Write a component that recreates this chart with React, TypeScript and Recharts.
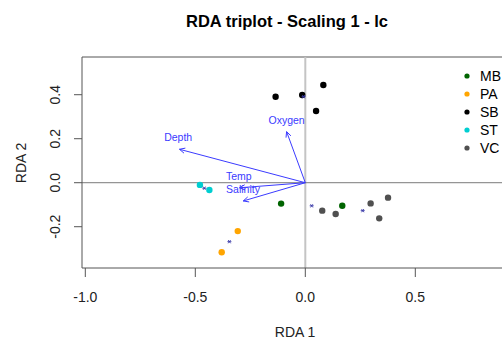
import React from 'react';
import { ScatterChart, Scatter, XAxis, YAxis, ReferenceLine, Legend } from 'recharts';

const xTicks = [-1, -0.5, 0, 0.5];
const yTicks = [-0.2, 0, 0.2, 0.4];
const xDomain = [-1.015, 0.9077];
const yDomain = [-0.3877, 0.5714];

const mbSites = [{ x: -0.110, y: -0.095 }, { x: 0.168, y: -0.105 }];
const paSites = [{ x: -0.307, y: -0.220 }, { x: -0.380, y: -0.316 }];
const sbSites = [{ x: -0.135, y: 0.391 }, { x: -0.014, y: 0.399 }, { x: 0.082, y: 0.444 }, { x: 0.049, y: 0.326 }];
const stSites = [{ x: -0.479, y: -0.010 }, { x: -0.436, y: -0.033 }];
const vcSites = [{ x: 0.077, y: -0.127 }, { x: 0.138, y: -0.142 }, { x: 0.297, y: -0.094 }, { x: 0.376, y: -0.068 }, { x: 0.336, y: -0.162 }];
const speciesScores = [{ x: -0.459, y: -0.025 }, { x: 0.029, y: -0.105 }, { x: 0.261, y: -0.127 }, { x: -0.345, y: -0.268 }, { x: -0.008, y: 0.391 }];

const envNames = ['Depth', 'Oxygen', 'Temp', 'Salinity'];
const envArrowX = [-0.572, -0.085, -0.299, -0.282];
const envArrowY = [0.152, 0.232, -0.023, -0.083];
const envLabelX = [-0.578, -0.085, -0.302, -0.283];
const envLabelY = [0.206, 0.285, 0.030, -0.029];

const groupNames = ['MB', 'PA', 'SB', 'ST', 'VC'];
const groupColors = ['#006400', '#FFA500', '#000000', '#00CED1', '#505050'];
const groupSites = [mbSites, paSites, sbSites, stSites, vcSites];

const envLabels = envNames.map((name, i) => ({ name, x: envLabelX[i], y: envLabelY[i] }));

const ARROW = '#3b3bff';
const FONT = '"Liberation Sans", Arial, Helvetica, sans-serif';

const fmt = (v: number) => v.toFixed(1);

const ArrowShape = (props: any) => {
  const { x1, y1, x2, y2 } = props;
  const ang = Math.atan2(y2 - y1, x2 - x1);
  const L = 6;
  const a = Math.PI / 7;
  const p1x = x2 - L * Math.cos(ang - a);
  const p1y = y2 - L * Math.sin(ang - a);
  const p2x = x2 - L * Math.cos(ang + a);
  const p2y = y2 - L * Math.sin(ang + a);
  return (
    <g>
      <line x1={x1} y1={y1} x2={x2} y2={y2} stroke={ARROW} strokeWidth={1} />
      <polyline points={`${p1x},${p1y} ${x2},${y2} ${p2x},${p2y}`} fill="none" stroke={ARROW} strokeWidth={1} />
    </g>
  );
};

const YTick = (props: any) => {
  const { x, y, payload } = props;
  return (
    <text x={x} y={y} transform={`rotate(-90 ${x} ${y})`} textAnchor="middle" fontSize={14} fill="#222" fontFamily={FONT}>
      {fmt(payload.value)}
    </text>
  );
};

const dotShape = (color: string) => (p: any) => <circle cx={p.cx} cy={p.cy} r={3.2} fill={color} />;

const StarShape = (p: any) => {
  const { cx, cy } = p;
  const s = 2;
  return (
    <g stroke="#3a3aa8" strokeWidth={0.9}>
      <line x1={cx - s} y1={cy} x2={cx + s} y2={cy} />
      <line x1={cx - s * 0.6} y1={cy - s * 0.8} x2={cx + s * 0.6} y2={cy + s * 0.8} />
      <line x1={cx + s * 0.6} y1={cy - s * 0.8} x2={cx - s * 0.6} y2={cy + s * 0.8} />
    </g>
  );
};

const LabelShape = (p: any) => (
  <text x={p.cx} y={p.cy} dy="0.35em" textAnchor="middle" fontSize={10.5} fill={ARROW} fontFamily={FONT}>
    {p.payload.name}
  </text>
);

const LegendContent = () => (
  <svg width={60} height={100} style={{ overflow: 'visible' }}>
    {groupNames.map((n, i) => (
      <g key={n}>
        <circle cx={8} cy={10 + i * 18} r={2.6} fill={groupColors[i]} />
        <text x={21} y={10 + i * 18} dy="0.36em" fontSize={14} fill="#000" fontFamily={FONT}>{n}</text>
      </g>
    ))}
  </svg>
);

export default function App() {
  return (
    <div style={{ position: 'fixed', left: 0, top: 0, width: 502, height: 338, overflow: 'hidden', background: '#fff', fontFamily: FONT }}>
      <ScatterChart width={520} height={338} margin={{ top: 57, right: 15, bottom: 30, left: 22 }}>
        <XAxis
          type="number"
          dataKey="x"
          domain={xDomain}
          ticks={xTicks}
          allowDataOverflow
          tickFormatter={fmt}
          height={40}
          tickSize={9}
          tickMargin={15}
          stroke="#555"
          tick={{ fill: '#222', fontSize: 14, fontFamily: FONT }}
          interval={0}
        />
        <YAxis
          type="number"
          dataKey="y"
          domain={yDomain}
          ticks={yTicks}
          allowDataOverflow
          width={60}
          tickSize={8}
          tickMargin={14}
          stroke="#555"
          tick={<YTick />}
          interval={0}
        />
        <ReferenceLine y={yDomain[1]} stroke="#555" strokeWidth={1} />
        <ReferenceLine x={0} stroke="#c4c4c4" strokeWidth={2} />
        <ReferenceLine y={0} stroke="#7a7a7a" strokeWidth={1} />
        {envNames.map((n, i) => (
          <ReferenceLine
            key={n}
            segment={[{ x: 0, y: 0 }, { x: envArrowX[i], y: envArrowY[i] }]}
            stroke={ARROW}
            shape={ArrowShape}
          />
        ))}
        {groupNames.map((n, i) => (
          <Scatter key={n} name={n} data={groupSites[i]} fill={groupColors[i]} shape={dotShape(groupColors[i])} isAnimationActive={false} />
        ))}
        <Scatter name="species" data={speciesScores} fill="#3a3aa8" shape={StarShape} isAnimationActive={false} legendType="none" />
        <Scatter name="env" data={envLabels} fill={ARROW} shape={LabelShape} isAnimationActive={false} legendType="none" />
        <Legend
          layout="vertical"
          align="center"
          verticalAlign="middle"
          content={<LegendContent />}
          wrapperStyle={{ position: 'absolute', left: 459, top: 66, width: 60, height: 100 }}
        />
        <text x={287} y={27} textAnchor="middle" fontSize={16.5} fontWeight="bold" fill="#000" fontFamily={FONT}>
          RDA triplot - Scaling 1 - lc
        </text>
        <text x={295} y={337} textAnchor="middle" fontSize={14} fill="#222" fontFamily={FONT}>
          RDA 1
        </text>
        <text x={25.5} y={163} transform="rotate(-90 25.5 163)" textAnchor="middle" fontSize={14} fill="#222" fontFamily={FONT}>
          RDA 2
        </text>
      </ScatterChart>
    </div>
  );
}
